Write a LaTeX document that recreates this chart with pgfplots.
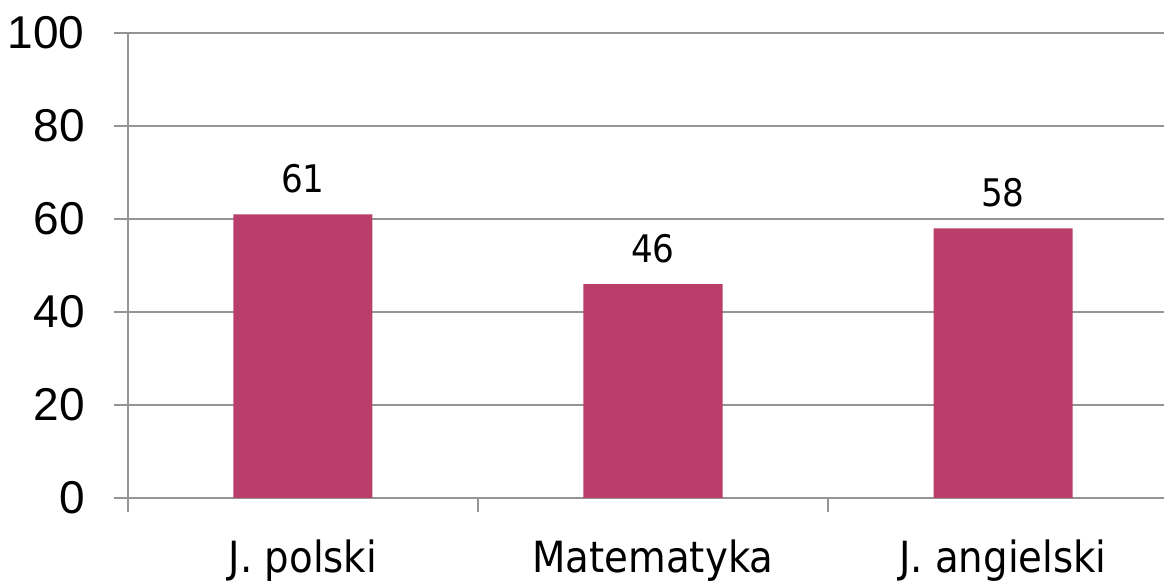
\documentclass[border=0pt]{standalone}
\usepackage{fontspec}
\usepackage{pgfplots}
\pgfplotsset{compat=1.18}
\newfontfamily\lab{DejaVu Sans Condensed}
\newfontfamily\ylab{Liberation Sans}
\definecolor{barcol}{HTML}{BA3E6A}
\definecolor{gridgray}{HTML}{949494}

\begin{document}
\begin{tikzpicture}
\useasboundingbox (-64pt,-42pt) rectangle (518pt,249pt);
\begin{axis}[
  at={(0,0)}, anchor=south west,
  scale only axis, width=518pt, height=232.5pt,
  xmin=-0.5, xmax=2.46, ymin=0, ymax=100,
  axis x line*=bottom, axis y line*=left,
  axis line style={gridgray, line width=1pt, -},
  ytick={0,20,...,100},
  ymajorgrids, major grid style={gridgray, line width=1pt},
  tick align=outside, major tick length=7pt,
  tick style={gridgray, line width=1pt},
  xtick={0,1,2}, xticklabels={J. polski, Matematyka, J. angielski},
  x tick style={draw=none},
  extra x ticks={-0.5,0.5,1.5}, extra x tick labels={},
  extra x tick style={x tick style={draw=gridgray, line width=1pt}, grid=none},
  xticklabel style={font=\lab\fontsize{21.5}{21.5}\selectfont, anchor=base, inner sep=0pt, yshift=-30.5pt},
  yticklabel style={font=\ylab\fontsize{23}{23}\selectfont, anchor=east, inner sep=0pt, xshift=-14.5pt},
  /pgf/number format/assume math mode=true,
  ybar, bar width=69.5pt,
  nodes near coords,
  every node near coord/.append style={font=\lab\fontsize{19}{19}\selectfont, anchor=south, inner sep=0pt, yshift=10.5pt, text=black},
]
\addplot[fill=barcol, draw=none] coordinates {(0,61) (1,46) (2,58)};
\end{axis}
\end{tikzpicture}
\end{document}
